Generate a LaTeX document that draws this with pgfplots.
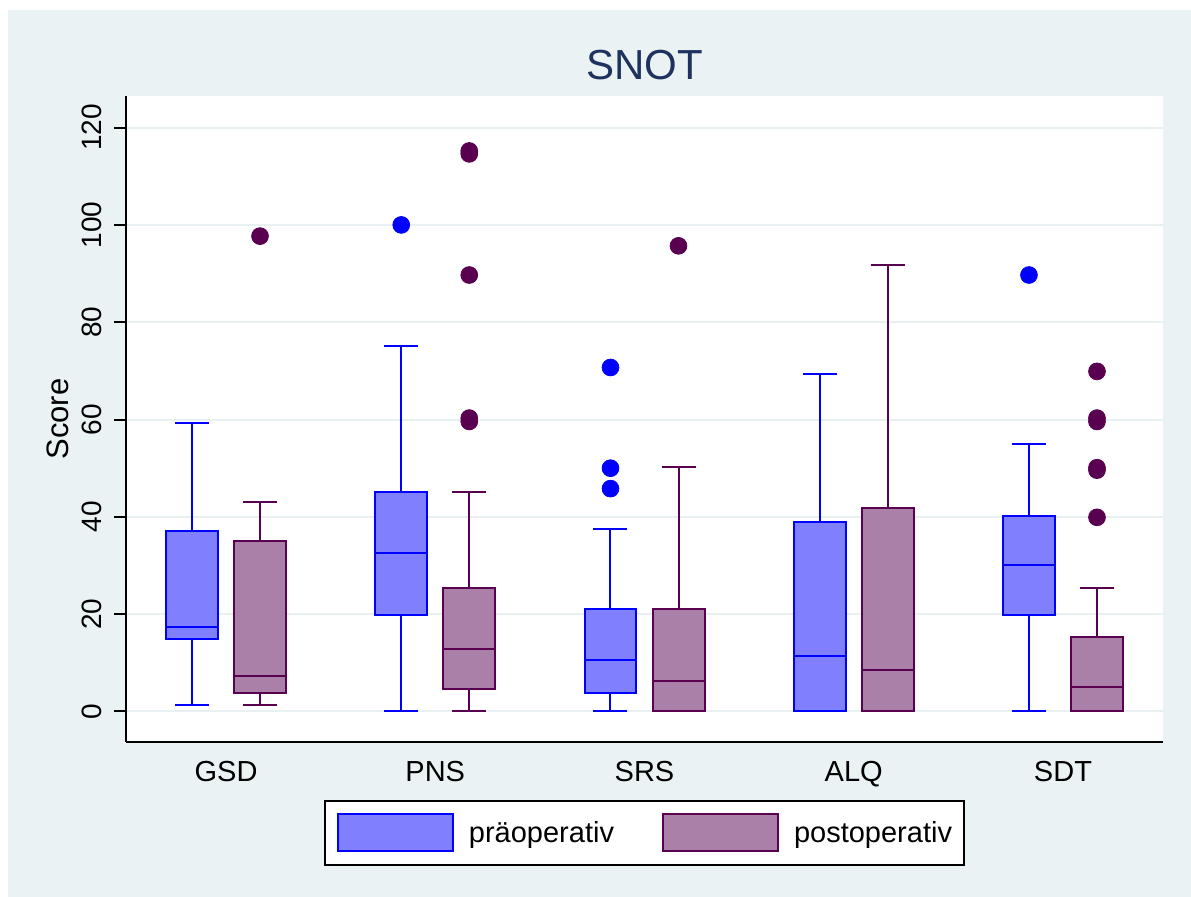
\documentclass[border=0pt]{standalone}
\usepackage{pgfplots}
\pgfplotsset{compat=1.18}
\usepgfplotslibrary{statistics}
\usepackage{fontspec}
\setmainfont{Liberation Sans}
\definecolor{bgc}{RGB}{234,242,243}
\definecolor{gridc}{RGB}{232,240,242}
\definecolor{prefill}{RGB}{128,128,255}
\definecolor{preline}{RGB}{0,0,255}
\definecolor{postfill}{RGB}{170,128,168}
\definecolor{postline}{RGB}{90,0,80}
\definecolor{titlec}{RGB}{30,50,95}
\pgfplotsset{
  pre/.style={draw=preline, fill=prefill, line width=1pt, solid, mark=*, mark size=4.2pt,
    mark options={draw=preline, fill=preline, line width=0.4pt, solid}},
  post/.style={draw=postline, fill=postfill, line width=1pt, solid, mark=*, mark size=4.2pt,
    mark options={draw=postline, fill=postline, line width=0.4pt, solid}},
}
\begin{document}
\begin{tikzpicture}
\useasboundingbox (0,0) rectangle (595.5pt,448.5pt);
\fill[bgc] (4pt,0) rectangle (595.5pt,443.5pt);
\begin{axis}[
  at={(63pt,77.5pt)}, anchor=south west,
  scale only axis, width=518.5pt, height=323pt,
  xmin=0.522, xmax=5.478, ymin=-6.27, ymax=126.5,
  axis x line*=bottom, axis y line*=left,
  axis line style={line width=1pt, black},
  axis background/.style={fill=white},
  xtick={1,2,3,4,5}, xticklabels={GSD,PNS,SRS,ALQ,SDT},
  ytick={0,20,...,120},
  ymajorgrids, major grid style={gridc, line width=1pt},
  tick align=outside,
  xtick style={draw=none},
  ytick style={black, line width=1pt},
  major tick length=6pt,
  boxplot/draw direction=y,
  boxplot/box extend=0.2485, boxplot/whisker extend=0.1625,
  /pgf/number format/assume math mode=true,
  xticklabel style={font=\fontsize{14.5}{17}\selectfont, inner sep=0pt, anchor=north},
  xticklabel shift=3.5pt,
  yticklabel style={font=\fontsize{14}{16}\selectfont, rotate=90, anchor=south, inner sep=0pt},
  yticklabel shift=6pt,
  ylabel={Score},
  ylabel style={at={(axis description cs:-0.0559,0.5)}, anchor=base, font=\fontsize{15.5}{18}\selectfont},
  title={SNOT},
  title style={at={(axis description cs:0.5,1)}, anchor=base, yshift=2pt, font=\fontsize{21}{25}\selectfont, text=titlec},
  legend columns=2,
  legend cell align=left,
  legend style={at={(axis description cs:0.5,-0.0898)}, anchor=north, draw=black, line width=1pt, fill=white,
    font=\fontsize{14.5}{17}\selectfont, inner xsep=6pt, inner ysep=6.25pt, nodes={inner sep=0pt},
    /tikz/every odd column/.append style={column sep=7.5pt},
    /tikz/every even column/.append style={column sep=24pt}},
]
\addlegendimage{legend image code/.code={\draw[draw=preline, fill=prefill, line width=1pt] (0pt,-9.25pt) rectangle (57.5pt,9.25pt);}}
\addlegendimage{legend image code/.code={\draw[draw=postline, fill=postfill, line width=1pt] (0pt,-9.25pt) rectangle (57.5pt,9.25pt);}}
\legend{präoperativ, postoperativ}

% GSD
\addplot[pre, boxplot prepared={draw position=0.8375, lower whisker=1.3, lower quartile=14.8, median=17.3, upper quartile=37.1, upper whisker=59.2}] coordinates {};
\addplot[post, boxplot prepared={draw position=1.1625, lower whisker=1.3, lower quartile=3.9, median=7.2, upper quartile=35.0, upper whisker=43.1}] coordinates {(0,97.7)};
% PNS
\addplot[pre, boxplot prepared={draw position=1.8375, lower whisker=0, lower quartile=19.9, median=32.6, upper quartile=45.2, upper whisker=75.1}] coordinates {(0,100.0)};
\addplot[post, boxplot prepared={draw position=2.1625, lower whisker=0, lower quartile=4.7, median=12.8, upper quartile=25.4, upper whisker=45.1}] coordinates {(0,114.6) (0,115.2) (0,89.7) (0,59.6) (0,60.3)};
% SRS
\addplot[pre, boxplot prepared={draw position=2.8375, lower whisker=0, lower quartile=3.9, median=10.6, upper quartile=21.1, upper whisker=37.6}] coordinates {(0,70.7) (0,50.0) (0,45.8)};
\addplot[post, boxplot prepared={draw position=3.1625, lower whisker=0, lower quartile=0, median=6.3, upper quartile=21.1, upper whisker=50.3}] coordinates {(0,95.7)};
% ALQ
\addplot[pre, boxplot prepared={draw position=3.8375, lower whisker=0, lower quartile=0, median=11.5, upper quartile=38.9, upper whisker=69.3}] coordinates {};
\addplot[post, boxplot prepared={draw position=4.1625, lower whisker=0, lower quartile=0, median=8.5, upper quartile=41.8, upper whisker=91.8}] coordinates {};
% SDT
\addplot[pre, boxplot prepared={draw position=4.8375, lower whisker=0, lower quartile=19.9, median=30.1, upper quartile=40.2, upper whisker=55.0}] coordinates {(0,89.7)};
\addplot[post, boxplot prepared={draw position=5.1625, lower whisker=0, lower quartile=0, median=5.1, upper quartile=15.3, upper whisker=25.3}] coordinates {(0,69.9) (0,59.6) (0,60.3) (0,49.6) (0,50.1) (0,39.9)};
\end{axis}
\end{tikzpicture}
\end{document}
